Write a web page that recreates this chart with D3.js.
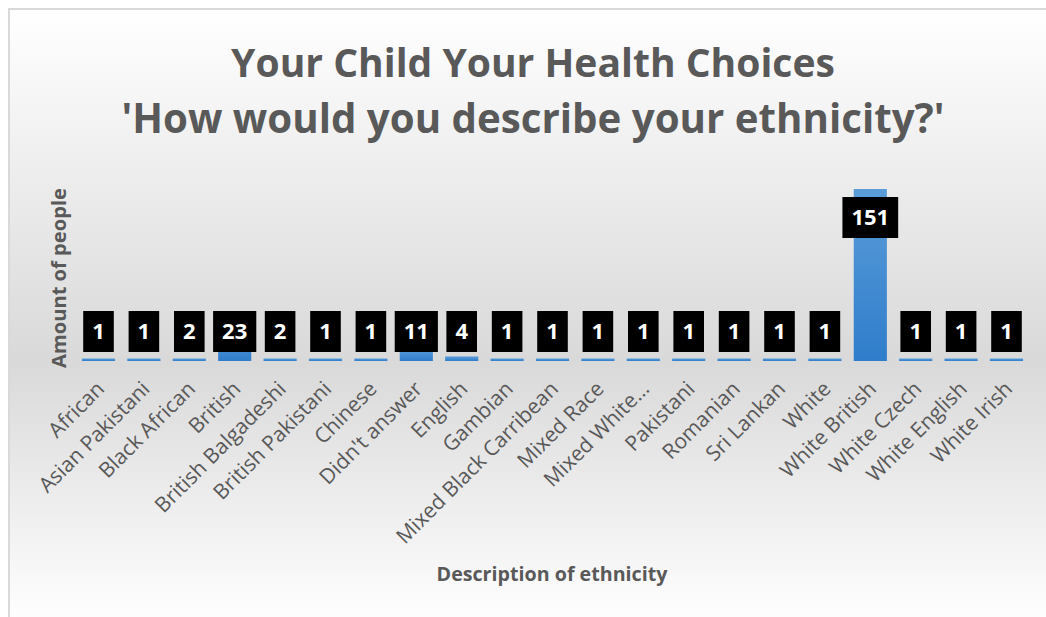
<!DOCTYPE html>
<html>
<head>
<meta charset="utf-8">
<script src="https://cdn.jsdelivr.net/npm/d3@7"></script>
<style>
  html, body { margin: 0; padding: 0; background: #fff; }
  svg { display: block; }
  text { font-family: "Open Sans", "Noto Sans", sans-serif; }
</style>
</head>
<body>
<svg id="chart" width="1046" height="617"></svg>
<script>
// Survey responses: self-described ethnicity
const categories = [
  "African", "Asian Pakistani", "Black African", "British", "British Balgadeshi",
  "British Pakistani", "Chinese", "Didn't answer", "English", "Gambian",
  "Mixed Black Carribean", "Mixed Race", "Mixed White…", "Pakistani", "Romanian",
  "Sri Lankan", "White", "White British", "White Czech", "White English", "White Irish"
];
const counts = [1, 1, 2, 23, 2, 1, 1, 11, 4, 1, 1, 1, 1, 1, 1, 1, 1, 151, 1, 1, 1];

const titleLines = ["Your Child Your Health Choices", "'How would you describe your ethnicity?'"];
const yAxisTitle = "Amount of people";
const xAxisTitle = "Description of ethnicity";

const W = 1046, H = 617;
const svg = d3.select("#chart");
const defs = svg.append("defs");

// chart area background: white -> grey -> white
const bg = defs.append("linearGradient").attr("id", "bgGrad")
  .attr("x1", 0).attr("y1", 0).attr("x2", 0).attr("y2", 1);
bg.append("stop").attr("offset", "0%").attr("stop-color", "#ffffff");
bg.append("stop").attr("offset", "57%").attr("stop-color", "#d9d9d9");
bg.append("stop").attr("offset", "100%").attr("stop-color", "#ffffff");

const barGrad = defs.append("linearGradient").attr("id", "barGrad")
  .attr("x1", 0).attr("y1", 0).attr("x2", 0).attr("y2", 1);
barGrad.append("stop").attr("offset", "0%").attr("stop-color", "#5b9dd9");
barGrad.append("stop").attr("offset", "100%").attr("stop-color", "#2f7dcb");

svg.append("rect").attr("x", 9).attr("y", 9).attr("width", W).attr("height", H)
  .attr("fill", "url(#bgGrad)").attr("stroke", "#d9d9d9").attr("stroke-width", 2);

// helper: size a text so its rendered width equals a target
function fitWidth(sel, target) {
  const node = sel.node();
  const fs = parseFloat(sel.attr("font-size"));
  const w = node.getComputedTextLength();
  sel.attr("font-size", (fs * target / w).toFixed(2));
}

// title
const titleY = [77, 133];
const titleW = [604, 823];
titleLines.forEach((t, i) => {
  const s = svg.append("text")
    .attr("x", 533).attr("y", titleY[i])
    .attr("text-anchor", "middle")
    .attr("font-size", 36).attr("font-weight", 700)
    .attr("fill", "#595959").text(t);
  fitWidth(s, titleW[i]);
});

// scales
const plotTop = 189, baseY = 361;
const x = d3.scaleBand().domain(categories).range([75.8, 1029.2]).paddingInner(0.27).paddingOuter(0.135);
const y = d3.scaleLinear().domain([0, d3.max(counts)]).range([baseY, plotTop]);

const data = categories.map((c, i) => ({ c, v: counts[i] }));

// bars
svg.append("g").selectAll("rect").data(data).join("rect")
  .attr("x", d => x(d.c))
  .attr("width", x.bandwidth())
  .attr("y", d => Math.min(y(d.v), baseY - 2.5))
  .attr("height", d => Math.max(baseY - y(d.v), 2.5))
  .attr("fill", "url(#barGrad)");

// value labels: black boxes, inside end, kept above the baseline
const boxH = 41;
const lbl = svg.append("g").selectAll("g").data(data).join("g");
lbl.each(function (d) {
  const g = d3.select(this);
  const t = g.append("text")
    .attr("text-anchor", "middle")
    .attr("font-size", 22).attr("font-weight", 700)
    .attr("fill", "#ffffff").text(d.v);
  const tw = t.node().getComputedTextLength();
  const bw = Math.max(30, tw + 18);
  const top = Math.min(y(d.v) + 8, baseY - 9 - boxH);
  const cx = x(d.c) + x.bandwidth() / 2;
  g.insert("rect", "text")
    .attr("x", cx - bw / 2).attr("y", top)
    .attr("width", bw).attr("height", boxH)
    .attr("fill", "#000000");
  t.attr("x", cx).attr("y", top + boxH / 2).attr("dy", "0.36em");
});

// category axis labels, rotated 45 degrees
const xAxis = svg.append("g");
xAxis.selectAll("text").data(categories).join("text")
  .attr("transform", d => `translate(${x(d) + x.bandwidth() / 2 + 2},${baseY + 24}) rotate(-45)`)
  .attr("text-anchor", "end")
  .attr("dy", "0.35em")
  .attr("font-size", 21)
  .attr("fill", "#595959")
  .text(d => d);

// axis titles
svg.append("text")
  .attr("transform", `translate(66,${(188 + 368) / 2}) rotate(-90)`)
  .attr("text-anchor", "middle")
  .attr("font-size", 17).attr("font-weight", 700)
  .attr("fill", "#595959").text(yAxisTitle)
  .call(s => fitWidth(s, 180));

svg.append("text")
  .attr("x", 552).attr("y", 581)
  .attr("text-anchor", "middle")
  .attr("font-size", 17).attr("font-weight", 700)
  .attr("fill", "#595959").text(xAxisTitle)
  .call(s => fitWidth(s, 231));
</script>
</body>
</html>
